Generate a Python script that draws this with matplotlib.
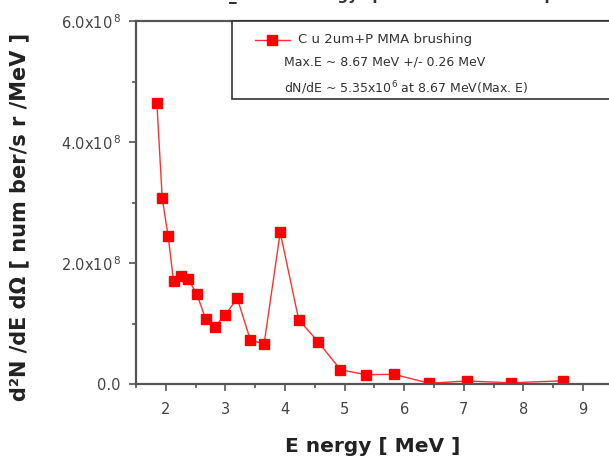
import matplotlib
matplotlib.use("Agg")
import matplotlib.pyplot as plt
from matplotlib.ticker import FuncFormatter, MultipleLocator

energy = [1.85, 1.94, 2.04, 2.13, 2.26, 2.37, 2.52, 2.67, 2.82, 3.00, 3.20, 3.42,
          3.65, 3.92, 4.23, 4.56, 4.93, 5.36, 5.83, 6.42, 7.05, 7.79, 8.67]
dnde = [4.65, 3.07, 2.44, 1.70, 1.785, 1.74, 1.49, 1.07, 0.947, 1.145, 1.416, 0.722,
        0.666, 2.507, 1.063, 0.694, 0.236, 0.154, 0.160, 0.012, 0.050, 0.020, 0.0535]
scale = 1e8
values = [v * scale for v in dnde]
series_label = "C u 2um+P MMA brushing"
info_lines = ["Max.E ~ 8.67 MeV +/- 0.26 MeV",
              r"dN/dE ~ 5.35x10$^6$ at 8.67 MeV(Max. E)"]

fig = plt.figure(figsize=(6.09, 4.59), dpi=100)
ax = fig.add_axes([136/609, 1-384/459, (612.8-136)/609, (384-21)/459])

ax.plot(energy, values, color="#ff3030", lw=1.0, marker="s", ms=6.5,
        mfc="#ff0000", mec="#ff0000", label=series_label)

ax.set_xlim(1.5, 9.5)
ax.set_ylim(0, 6e8)
ax.xaxis.set_major_locator(MultipleLocator(1))
ax.xaxis.set_minor_locator(MultipleLocator(0.5))
ax.yaxis.set_major_locator(MultipleLocator(2e8))
ax.yaxis.set_minor_locator(MultipleLocator(1e8))

def yfmt(v, pos):
    if abs(v) < 1:
        return "0.0"
    return r"%.1fx10$^{\,\mathdefault{8}}$" % (v / scale)
ax.yaxis.set_major_formatter(FuncFormatter(yfmt))

for s in ax.spines.values():
    s.set_color("#555555")
    s.set_linewidth(1.6)
ax.tick_params(which="both", direction="out", colors="#555555", labelcolor="#444444",
               labelsize=10.5, width=1.2)
ax.tick_params(which="major", length=5)
ax.tick_params(which="minor", length=3)
ax.tick_params(axis="x", pad=8)
ax.tick_params(axis="y", pad=6)

ax.set_xlabel("E nergy [ MeV ]", fontsize=14.5, fontweight="bold", color="#222222")
ax.xaxis.set_label_coords((373-136)/476.8, -(437-384)/363)
ax.set_ylabel("d\u00b2N /dE d\u03a9 [ num ber/s r /MeV ]", fontsize=15, fontweight="bold",
              color="#222222")
ax.yaxis.set_label_coords((29-136)/476.8, (384-217)/363)

# legend box
box = plt.Rectangle((232/609, 1-99/459), (609-232)/609 + 0.01, (99-21)/459,
                    transform=fig.transFigure, fill=True, facecolor="white",
                    edgecolor="#333333", lw=1.2, zorder=5)
fig.add_artist(box)
lx0, lx1 = 255/609, 290/609
ly = 1 - 40/459
fig.add_artist(plt.Line2D([lx0, lx1], [ly, ly], color="#ff3030", lw=1.0, zorder=6))
fig.add_artist(plt.Line2D([(lx0+lx1)/2], [ly], color="#ff0000", marker="s", ms=6.5, zorder=6))
fig.text(298/609, ly, series_label, fontsize=9.5, color="#333333", va="center", zorder=7)
fig.text(284/609, 1-62/459, info_lines[0], fontsize=9, color="#333333", va="center", zorder=7)
fig.text(284/609, 1-88/459, info_lines[1], fontsize=9, color="#333333", va="center", zorder=7)

fig.text(0.6, 1.0 + 4/459, "20170303_1 total energy spectrum from CR39 plots", fontsize=11,
         fontweight="bold", color="#333333", ha="center", va="center")

fig.savefig("out.png", dpi=100)
